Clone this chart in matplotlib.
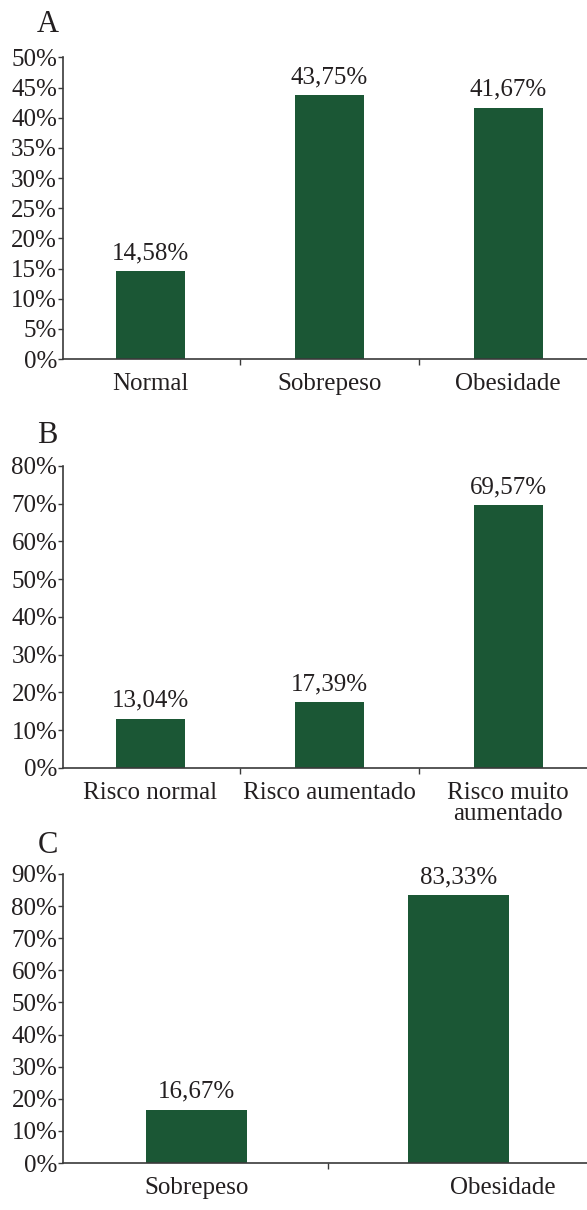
import matplotlib
matplotlib.use("Agg")
import matplotlib.pyplot as plt
from matplotlib.ticker import FixedLocator

plt.rcParams['font.family'] = ['Liberation Serif', 'DejaVu Serif']

cores_barra = '#1b5735'
cor_texto = '#231f20'
cor_eixo = '#3a3a3a'

# painel A - IMC
cat_a = ['Normal', 'Sobrepeso', 'Obesidade']
val_a = [14.58, 43.75, 41.67]
ticks_a = [0, 5, 10, 15, 20, 25, 30, 35, 40, 45, 50]

# painel B - circunferencia da cintura
cat_b = ['Risco normal', 'Risco aumentado', 'Risco muito\naumentado']
val_b = [13.04, 17.39, 69.57]
ticks_b = [0, 10, 20, 30, 40, 50, 60, 70, 80]

# painel C
cat_c = ['Sobrepeso', 'Obesidade']
val_c = [16.67, 83.33]
ticks_c = [0, 10, 20, 30, 40, 50, 60, 70, 80, 90]

fs = 18

fig = plt.figure(figsize=(5.87, 12.10), dpi=100)


def painel(rect, cats, vals, yticks, xlim, label_pos, letra, letra_y):
    ax = fig.add_axes(rect)
    x = list(range(len(cats)))
    ax.bar(x, vals, width=0.385, color=cores_barra, zorder=2)
    for xi, v in zip(x, vals):
        ax.annotate(f"{v:.2f}%".replace('.', ','), (xi, v), xytext=(0, 5),
                    textcoords='offset points', ha='center', va='bottom',
                    fontsize=fs, color=cor_texto)
    ax.set_xlim(*xlim)
    ax.set_ylim(0, yticks[-1])
    ax.set_yticks(yticks)
    ax.set_yticklabels([f"{t}%" for t in yticks])
    ax.set_xticks(label_pos)
    ax.set_xticklabels(cats, linespacing=0.95)
    ax.xaxis.set_minor_locator(FixedLocator([i + 0.5 for i in x[:-1]]))
    ax.tick_params(axis='x', which='major', length=0, pad=10,
                   labelsize=fs, labelcolor=cor_texto)
    ax.tick_params(axis='x', which='minor', length=4, width=1.0,
                   direction='out', color=cor_eixo)
    ax.tick_params(axis='y', length=3.5, width=1.0, pad=0.5,
                   labelsize=fs, labelcolor=cor_texto, color=cor_eixo)
    for s in ['top', 'right']:
        ax.spines[s].set_visible(False)
    for s in ['left', 'bottom']:
        ax.spines[s].set_linewidth(1.2)
        ax.spines[s].set_color(cor_eixo)
    fig.text(0.081, letra_y, letra, fontsize=fs + 4, color=cor_texto,
             ha='center', va='baseline')
    return ax


painel([0.1065, 0.7033, 0.8935, 0.2493], cat_a, val_a, ticks_a,
       (-0.49, 2.44), [0, 1, 2], 'A', 0.9736)
painel([0.1070, 0.3653, 0.8930, 0.2496], cat_b, val_b, ticks_b,
       (-0.49, 2.44), [0, 1, 2], 'B', 0.6339)
painel([0.1070, 0.0388, 0.8930, 0.2389], cat_c, val_c, ticks_c,
       (-0.51, 1.49), [0, 1.17], 'C', 0.2950)

fig.savefig('out.png', dpi=100)
